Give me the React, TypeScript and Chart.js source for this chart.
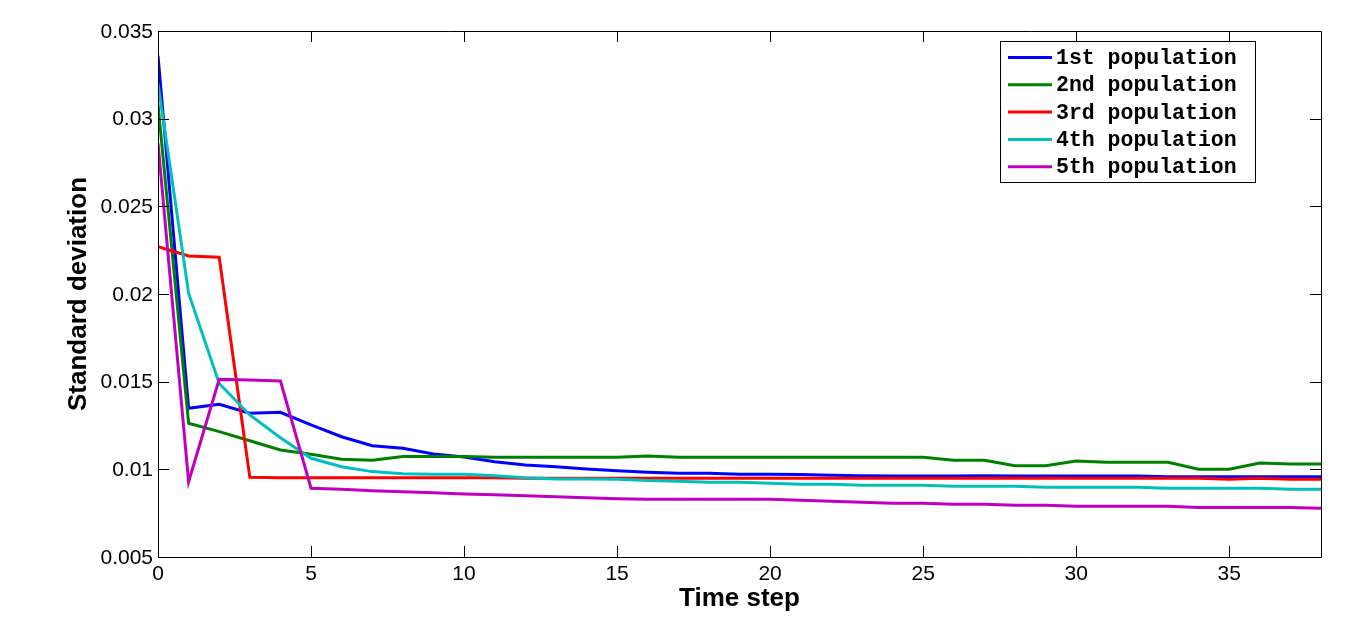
import React, { useEffect, useRef } from "react";
import { Chart, registerables } from "chart.js";

Chart.register(...registerables);

const steps: number[] = Array.from({ length: 39 }, (_, i) => i);

const pop1: number[] = [
  0.0336, 0.01348, 0.01371, 0.0132, 0.01325, 0.01253, 0.01186, 0.01135, 0.0112, 0.01087,
  0.0107, 0.01043, 0.01025, 0.01015, 0.01002, 0.00992, 0.00983, 0.00977, 0.00977, 0.00972,
  0.00972, 0.0097, 0.00966, 0.00964, 0.00962, 0.00962, 0.00962, 0.00964, 0.00962, 0.00962,
  0.00962, 0.00962, 0.00962, 0.00958, 0.00958, 0.00958, 0.00958, 0.00958, 0.00958,
];
const pop2: number[] = [
  0.0308, 0.01263, 0.01215, 0.01163, 0.0111, 0.01086, 0.01057, 0.01052, 0.01073, 0.01073,
  0.01073, 0.01069, 0.01069, 0.01069, 0.01069, 0.01069, 0.01076, 0.01069, 0.01069, 0.01069,
  0.01069, 0.01069, 0.01069, 0.01069, 0.01069, 0.01069, 0.01052, 0.01052, 0.0102, 0.0102,
  0.01047, 0.0104, 0.0104, 0.0104, 0.01, 0.01, 0.01036, 0.0103, 0.0103,
];
const pop3: number[] = [
  0.0227, 0.02217, 0.0221, 0.00955, 0.00952, 0.00952, 0.00952, 0.00952, 0.00952, 0.00952,
  0.00952, 0.00952, 0.00949, 0.00949, 0.00949, 0.00949, 0.00949, 0.00949, 0.00949, 0.00949,
  0.00949, 0.00949, 0.00949, 0.00949, 0.00949, 0.00949, 0.00949, 0.00949, 0.00949, 0.00949,
  0.00949, 0.00949, 0.00949, 0.00949, 0.00949, 0.00943, 0.00949, 0.00943, 0.00943,
];
const pop4: number[] = [
  0.032, 0.02005, 0.0149, 0.0131, 0.0118, 0.01063, 0.01015, 0.00987, 0.00975, 0.00972,
  0.00972, 0.00964, 0.00952, 0.00945, 0.00945, 0.00943, 0.00937, 0.00932, 0.00926, 0.00926,
  0.0092, 0.00915, 0.00915, 0.00909, 0.00909, 0.00909, 0.00903, 0.00903, 0.00903, 0.00898,
  0.00898, 0.00898, 0.00898, 0.00892, 0.00892, 0.00892, 0.00892, 0.00886, 0.00886,
];
const pop5: number[] = [
  0.0286, 0.00929, 0.01513, 0.0151, 0.01504, 0.00892, 0.00886, 0.00878, 0.00872, 0.00866,
  0.0086, 0.00855, 0.00849, 0.00843, 0.00838, 0.00832, 0.00829, 0.00829, 0.00829, 0.00829,
  0.00829, 0.00823, 0.00818, 0.00812, 0.00806, 0.00806, 0.00801, 0.00801, 0.00795, 0.00795,
  0.00789, 0.00789, 0.00789, 0.00789, 0.00783, 0.00783, 0.00783, 0.00783, 0.00778,
];

const seriesNames: string[] = ["1st population", "2nd population", "3rd population", "4th population", "5th population"];
const seriesColors: string[] = ["#0000FF", "#008000", "#FF0000", "#00BFBF", "#BF00BF"];
const xTicks: number[] = [0, 5, 10, 15, 20, 25, 30, 35];
const yTicks: number[] = [0.005, 0.01, 0.015, 0.02, 0.025, 0.03, 0.035];
const yTickLabels: string[] = ["0.005", "0.01", "0.015", "0.02", "0.025", "0.03", "0.035"];
const xTitle = "Time step";
const yTitle = "Standard deviation";

const allSeries = [pop1, pop2, pop3, pop4, pop5];

const framePlugin = {
  id: "matlabFrame",
  afterDraw(chart: any) {
    const { ctx, chartArea } = chart;
    const xs = chart.scales.x;
    const ys = chart.scales.y;
    const { left, right, top, bottom } = chartArea;
    const tl = 11;
    ctx.save();
    ctx.strokeStyle = "#000";
    ctx.lineWidth = 1;
    ctx.beginPath();
    ctx.rect(Math.round(left) + 0.5, Math.round(top) + 0.5, Math.round(right - left), Math.round(bottom - top));
    ctx.stroke();
    ctx.beginPath();
    xTicks.forEach((v) => {
      const px = Math.round(xs.getPixelForValue(v)) + 0.5;
      ctx.moveTo(px, bottom);
      ctx.lineTo(px, bottom - tl);
      ctx.moveTo(px, top);
      ctx.lineTo(px, top + tl);
    });
    yTicks.forEach((v) => {
      const py = Math.round(ys.getPixelForValue(v)) + 0.5;
      ctx.moveTo(left, py);
      ctx.lineTo(left + tl, py);
      ctx.moveTo(right, py);
      ctx.lineTo(right - tl, py);
    });
    ctx.stroke();

    ctx.fillStyle = "#000";
    ctx.font = "21px 'Liberation Sans', Arial, sans-serif";
    ctx.textAlign = "center";
    ctx.textBaseline = "top";
    xTicks.forEach((v) => {
      ctx.fillText(String(v), xs.getPixelForValue(v), bottom + 7);
    });
    ctx.textAlign = "right";
    ctx.textBaseline = "middle";
    yTicks.forEach((v, i) => {
      ctx.fillText(yTickLabels[i], left - 5, ys.getPixelForValue(v) + 1);
    });

    ctx.font = "bold 26px 'Liberation Sans', Arial, sans-serif";
    ctx.textAlign = "center";
    ctx.textBaseline = "middle";
    ctx.fillText(xTitle, (left + right) / 2, bottom + 42);
    ctx.save();
    ctx.translate(79, (top + bottom) / 2);
    ctx.rotate(-Math.PI / 2);
    ctx.fillText(yTitle, 0, 0);
    ctx.restore();

    // legend
    const bx = 1000.5, by = 41.5, bw = 255, bh = 141;
    ctx.fillStyle = "#fff";
    ctx.fillRect(bx, by, bw, bh);
    ctx.strokeStyle = "#000";
    ctx.lineWidth = 1;
    ctx.strokeRect(bx, by, bw, bh);
    ctx.font = "bold 21.5px 'Liberation Mono', 'Courier New', monospace";
    ctx.textAlign = "left";
    ctx.textBaseline = "middle";
    seriesNames.forEach((name, i) => {
      const cy = 57.5 + i * 27.3;
      ctx.strokeStyle = seriesColors[i];
      ctx.lineWidth = 3;
      ctx.beginPath();
      ctx.moveTo(1008, cy);
      ctx.lineTo(1052, cy);
      ctx.stroke();
      ctx.fillStyle = "#000";
      ctx.fillText(name, 1056, cy + 1);
    });
    ctx.restore();
  },
};

export default function App() {
  const ref = useRef<HTMLCanvasElement | null>(null);
  useEffect(() => {
    if (!ref.current) return;
    const chart = new Chart(ref.current, {
      type: "line",
      data: {
        datasets: allSeries.map((s, i) => ({
          label: seriesNames[i],
          data: s.map((v, j) => ({ x: steps[j], y: v })),
          borderColor: seriesColors[i],
          backgroundColor: seriesColors[i],
          borderWidth: 3,
          pointRadius: 0,
          tension: 0,
          fill: false,
          order: 4 - i,
        })),
      },
      options: {
        animation: false,
        responsive: false,
        devicePixelRatio: 1,
        layout: { padding: { left: 158, right: 46, top: 31, bottom: 70 } },
        plugins: { legend: { display: false }, tooltip: { enabled: false } },
        scales: {
          x: { type: "linear", min: 0, max: 38, display: false },
          y: { type: "linear", min: 0.005, max: 0.035, display: false },
        },
      },
      plugins: [framePlugin],
    });
    return () => chart.destroy();
  }, []);
  return (
    <div style={{ position: "fixed", left: 0, top: 0, width: 1367, height: 627, background: "#fff" }}>
      <canvas ref={ref} width={1367} height={627} style={{ display: "block" }} />
    </div>
  );
}
